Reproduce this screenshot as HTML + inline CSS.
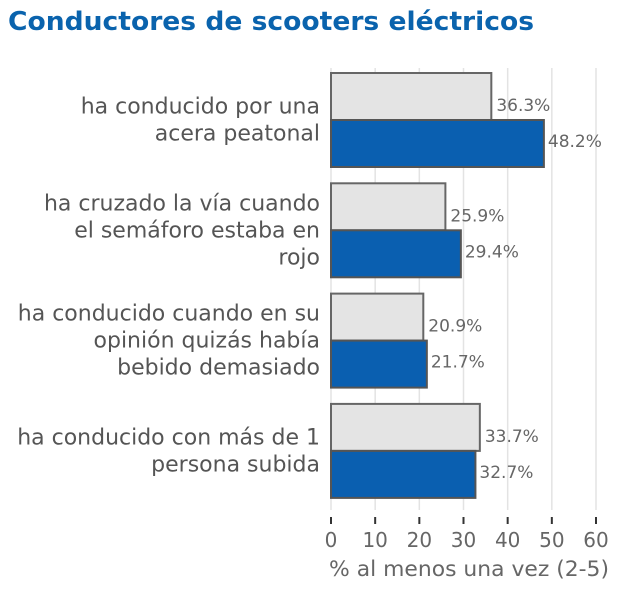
<!DOCTYPE html>
<html><head><meta charset="utf-8"><style>
body{margin:0;background:#fff;width:620px;height:586px;overflow:hidden;font-family:"DejaVu Sans","Liberation Sans",sans-serif}
</style></head><body>
<svg width="620" height="586" font-family="DejaVu Sans, Liberation Sans, sans-serif">
<text x="8" y="30" font-size="26" font-weight="bold" fill="#0a63ad" textLength="526" lengthAdjust="spacingAndGlyphs">Conductores de scooters eléctricos</text>
<g id="grid"></g><g id="bars"></g><g id="labels"></g><g id="axis"></g>
<text x="469" y="576" font-size="21" fill="#666" text-anchor="middle" textLength="280" lengthAdjust="spacingAndGlyphs">% al menos una vez (2-5)</text>
</svg>
<script>
const categories=[["ha conducido por una","acera peatonal"],["ha cruzado la vía cuando","el semáforo estaba en","rojo"],["ha conducido cuando en su","opinión quizás había","bebido demasiado"],["ha conducido con más de 1","persona subida"]];
const seriesGray=[36.3,25.9,20.9,33.7];
const seriesBlue=[48.2,29.4,21.7,32.7];
const ticks=[0,10,20,30,40,50,60];
const NS="http://www.w3.org/2000/svg";
const x=v=>331+v*(265/60);
const groupTop=i=>73+i*110.3;
function mk(tag,attrs,parent,txt){const e=document.createElementNS(NS,tag);for(const k in attrs)e.setAttribute(k,attrs[k]);if(txt!==undefined)e.textContent=txt;document.getElementById(parent).appendChild(e);return e;}
ticks.forEach(t=>{
 const g=mk('line',{x1:x(t),x2:x(t),y1:68,y2:510,stroke:'#e3e3e3','stroke-width':1.5},'grid');
 
 
 const tk=mk('line',{x1:x(t),x2:x(t),y1:517,y2:524,stroke:'#333','stroke-width':2},'axis');
 
 
 const tl=mk('text',{x:x(t),y:547,'font-size':20,fill:'#666','text-anchor':'middle'},'axis',String(t));
 
 
});
categories.forEach((c,i)=>{
 const y0=groupTop(i);
 const g=mk('rect',{x:x(0),y:y0,width:x(seriesGray[i])-x(0),height:47,fill:'#e4e4e4',stroke:'#666','stroke-width':2},'bars');
 
 
 const b=mk('rect',{x:x(0),y:y0+47,width:x(seriesBlue[i])-x(0),height:47,fill:'#0a5fb0',stroke:'#555','stroke-width':2},'bars');
 
 
 const lg=mk('text',{x:x(seriesGray[i])+5,y:y0+38,'font-size':17,fill:'#666'},'labels',seriesGray[i].toFixed(1)+'%');
 
 
 const lb=mk('text',{x:x(seriesBlue[i])+4,y:y0+74,'font-size':17,fill:'#666'},'labels',seriesBlue[i].toFixed(1)+'%');
 
 
 const n=c.length, cy=y0+47, lh=27;
 c.forEach((line,j)=>{
  const t=mk('text',{x:320,y:cy+(j-(n-1)/2)*lh+7,'font-size':22,fill:'#555','text-anchor':'end'},'labels',line);
  
  
 });
});
</script>
</body></html>
